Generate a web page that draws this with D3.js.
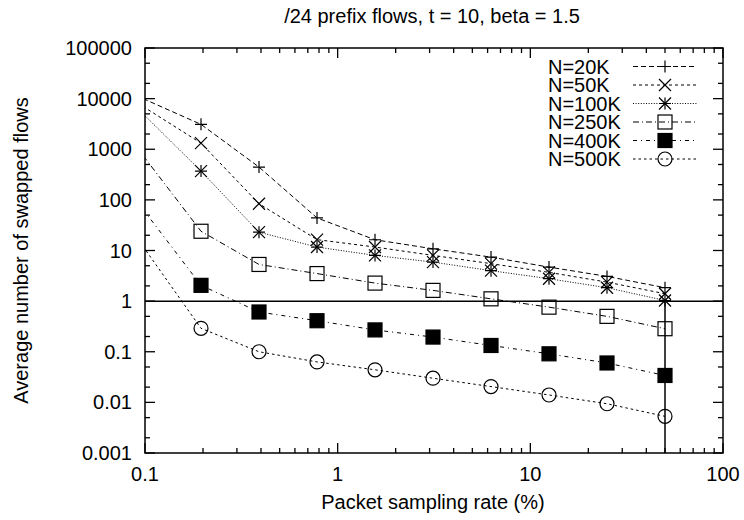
<!DOCTYPE html>
<html lang="en">
<head>
  <meta charset="UTF-8">
  <title>Swapped flows vs packet sampling rate</title>
  <script src="https://d3js.org/d3.v7.min.js"></script>
  <style>
    body {
      margin: 0;
      background: #fff;
      font-family: "Liberation Sans", Arial, sans-serif;
    }
  </style>
</head>
<body>
  <script>
    const width = 744;
    const height = 520;

    // sampling rates (%), the first one sits just left of the axis
    const rates = [0.0977, 0.1953, 0.3906, 0.7813, 1.5625, 3.125, 6.25, 12.5, 25, 50];

    const n20K  = [10000, 3100, 445, 44, 16.3, 10.8, 7.4, 4.7, 3.08, 1.84];
    const n50K  = [7000, 1320, 84, 16.4, 11.7, 8.0, 5.5, 3.7, 2.37, 1.4];
    const n100K = [5000, 370, 23, 11.7, 8.0, 5.9, 4.0, 2.77, 1.84, 1.03];
    const n250K = [750, 24, 5.3, 3.5, 2.27, 1.63, 1.11, 0.76, 0.50, 0.285];
    const n400K = [65, 2.05, 0.61, 0.41, 0.27, 0.195, 0.133, 0.091, 0.060, 0.034];
    const n500K = [12, 0.29, 0.10, 0.063, 0.044, 0.030, 0.0205, 0.014, 0.0094, 0.0053];

    const seriesNames = ["N=20K", "N=50K", "N=100K", "N=250K", "N=400K", "N=500K"];
    const seriesValues = [n20K, n50K, n100K, n250K, n400K, n500K];
    const markerTypes = ["plus", "cross", "star", "box", "boxfill", "circle"];
    const dashes = ["5,3", "3,3", "1,1.6", "6,3,1,3", "4,4,1,4", "2.5,3"];

    const xTicks = [0.1, 1, 10, 100];
    const yTicks = [0.001, 0.01, 0.1, 1, 10, 100, 1000, 10000, 100000];

    const title = "/24 prefix flows, t = 10, beta = 1.5";
    const xTitle = "Packet sampling rate (%)";
    const yTitle = "Average number of swapped flows";

    const pLeft = 145, pRight = 723, pTop = 48, pBottom = 453;

    const svg = d3.select("body")
      .append("svg")
      .attr("width", width)
      .attr("height", height);

    const x = d3.scaleLog().domain([0.1, 100]).range([pLeft, pRight]);
    const y = d3.scaleLog().domain([0.001, 100000]).range([pBottom, pTop]);

    svg.append("clipPath").attr("id", "plot")
      .append("rect")
      .attr("x", pLeft).attr("y", pTop)
      .attr("width", pRight - pLeft).attr("height", pBottom - pTop);

    // minor ticks: 2..9 on x, 2 and 5 on y
    const xMinor = [];
    [0.1, 1, 10].forEach(d => { for (let k = 2; k <= 9; k++) xMinor.push(d * k); });
    const yMinor = [];
    yTicks.slice(0, -1).forEach(d => { yMinor.push(d * 2, d * 5); });

    const tickg = svg.append("g").attr("stroke", "#000").attr("stroke-width", 1.3);
    xTicks.forEach(d => {
      tickg.append("line").attr("x1", x(d)).attr("x2", x(d)).attr("y1", pBottom).attr("y2", pBottom - 10);
      tickg.append("line").attr("x1", x(d)).attr("x2", x(d)).attr("y1", pTop).attr("y2", pTop + 10);
    });
    xMinor.forEach(d => {
      tickg.append("line").attr("x1", x(d)).attr("x2", x(d)).attr("y1", pBottom).attr("y2", pBottom - 5);
      tickg.append("line").attr("x1", x(d)).attr("x2", x(d)).attr("y1", pTop).attr("y2", pTop + 5);
    });
    yTicks.forEach(d => {
      tickg.append("line").attr("x1", pLeft).attr("x2", pLeft + 10).attr("y1", y(d)).attr("y2", y(d));
      tickg.append("line").attr("x1", pRight).attr("x2", pRight - 10).attr("y1", y(d)).attr("y2", y(d));
    });
    yMinor.forEach(d => {
      tickg.append("line").attr("x1", pLeft).attr("x2", pLeft + 5).attr("y1", y(d)).attr("y2", y(d));
      tickg.append("line").attr("x1", pRight).attr("x2", pRight - 5).attr("y1", y(d)).attr("y2", y(d));
    });

    // tick labels
    svg.append("g").selectAll("text")
      .data(xTicks).enter().append("text")
      .attr("x", d => x(d)).attr("y", 481)
      .attr("text-anchor", "middle")
      .attr("font-size", 20)
      .text(d => d3.format("~g")(d));

    svg.append("g").selectAll("text")
      .data(yTicks).enter().append("text")
      .attr("x", 132).attr("y", d => y(d) + 7)
      .attr("text-anchor", "end")
      .attr("font-size", 20)
      .text(d => d >= 1 ? d3.format("d")(d) : d3.format("~g")(d));

    // reference lines at y = 1 and x = 50
    svg.append("line")
      .attr("x1", pLeft).attr("x2", pRight).attr("y1", y(1)).attr("y2", y(1))
      .attr("stroke", "#000").attr("stroke-width", 1.5);
    svg.append("line")
      .attr("x1", x(50)).attr("x2", x(50)).attr("y1", y(1)).attr("y2", pBottom)
      .attr("stroke", "#000").attr("stroke-width", 1.5);

    function marker(g, type, cx, cy) {
      const s = 6;
      if (type === "plus" || type === "star")
        g.append("path").attr("d", `M${cx - s},${cy}H${cx + s}M${cx},${cy - s}V${cy + s}`);
      if (type === "cross" || type === "star")
        g.append("path").attr("d", `M${cx - s},${cy - s}L${cx + s},${cy + s}M${cx - s},${cy + s}L${cx + s},${cy - s}`);
      if (type === "box" || type === "boxfill")
        g.append("rect").attr("x", cx - 7).attr("y", cy - 7).attr("width", 14).attr("height", 14)
          .attr("fill", type === "boxfill" ? "#000" : "none");
      if (type === "circle")
        g.append("circle").attr("cx", cx).attr("cy", cy).attr("r", 7).attr("fill", "none");
    }

    const line = d3.line().x(d => x(d[0])).y(d => y(d[1]));

    seriesValues.forEach((vals, i) => {
      const pts = rates.map((r, j) => [r, vals[j]]);
      svg.append("path")
        .attr("clip-path", "url(#plot)")
        .attr("d", line(pts))
        .attr("fill", "none")
        .attr("stroke", "#000")
        .attr("stroke-width", 1)
        .attr("stroke-dasharray", dashes[i]);
      const mg = svg.append("g").attr("stroke", "#000").attr("stroke-width", 1.2).attr("fill", "none");
      pts.filter(p => p[0] >= 0.1).forEach(p => marker(mg, markerTypes[i], x(p[0]), y(p[1])));
    });

    // legend
    seriesNames.forEach((name, i) => {
      const ly = 66.5 + i * 18.5;
      svg.append("text")
        .attr("x", 548).attr("y", ly + 7)
        .attr("font-size", 20)
        .text(name);
      svg.append("line")
        .attr("x1", 633).attr("x2", 697).attr("y1", ly).attr("y2", ly)
        .attr("stroke", "#000").attr("stroke-width", 1)
        .attr("stroke-dasharray", dashes[i]);
      const mg = svg.append("g").attr("stroke", "#000").attr("stroke-width", 1.2).attr("fill", "none");
      marker(mg, markerTypes[i], 665, ly);
    });

    // frame
    svg.append("rect")
      .attr("x", pLeft).attr("y", pTop)
      .attr("width", pRight - pLeft).attr("height", pBottom - pTop)
      .attr("fill", "none").attr("stroke", "#000").attr("stroke-width", 1.5);

    // titles
    svg.append("text")
      .attr("x", (pLeft + pRight) / 2 - 2).attr("y", 23)
      .attr("text-anchor", "middle").attr("font-size", 20)
      .text(title);
    svg.append("text")
      .attr("x", (pLeft + pRight) / 2 - 1).attr("y", 509)
      .attr("text-anchor", "middle").attr("font-size", 20)
      .text(xTitle);
    svg.append("text")
      .attr("transform", `translate(28,${(pTop + pBottom) / 2}) rotate(-90)`)
      .attr("text-anchor", "middle").attr("font-size", 20)
      .text(yTitle);
  </script>
</body>
</html>
